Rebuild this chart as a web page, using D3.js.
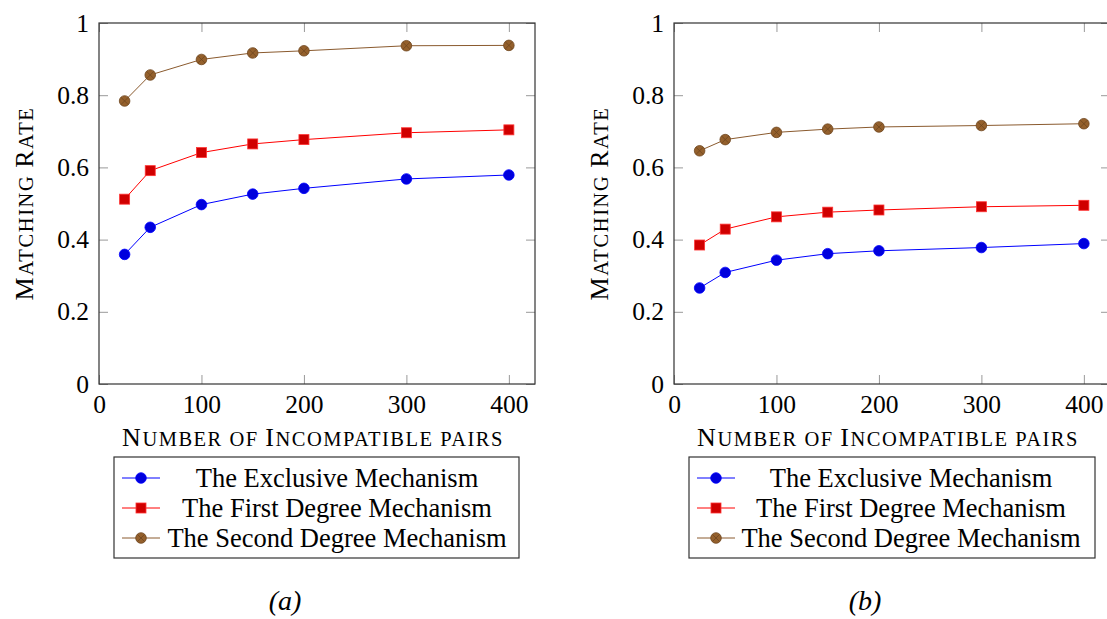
<!doctype html>
<html>
<head>
<meta charset="utf-8">
<script src="https://cdn.jsdelivr.net/npm/d3@7/dist/d3.min.js"></script>
<style>
  body { margin: 0; background: #fff; }
  svg text { font-family: "Liberation Serif", "Times New Roman", Times, serif; fill: #000; }
</style>
</head>
<body>
<svg id="chart" width="1107" height="619"></svg>
<script>
// data
const pairs = [25, 50, 100, 150, 200, 300, 400];
const exclusiveA = [0.359, 0.434, 0.497, 0.526, 0.542, 0.568, 0.579];
const firstA = [0.512, 0.591, 0.641, 0.665, 0.677, 0.696, 0.704];
const secondA = [0.784, 0.856, 0.899, 0.917, 0.923, 0.937, 0.938];
const exclusiveB = [0.266, 0.309, 0.343, 0.361, 0.369, 0.378, 0.389];
const firstB = [0.385, 0.429, 0.463, 0.476, 0.482, 0.491, 0.495];
const secondB = [0.646, 0.677, 0.697, 0.706, 0.712, 0.716, 0.721];
const seriesNames = ["The Exclusive Mechanism", "The First Degree Mechanism", "The Second Degree Mechanism"];
const xTicks = [0, 100, 200, 300, 400];
const yTicks = [0, 0.2, 0.4, 0.6, 0.8, 1];
const captions = ["(a)", "(b)"];

const styles = [
  { line: "#0000ff", fill: "#0000dd", stroke: "#0000ff", mark: "circle" },
  { line: "#ff0000", fill: "#d00000", stroke: "#ff3333", mark: "square" },
  { line: "#8a5a2e", fill: "#94602c", stroke: "#6e461f", mark: "otimes" }
];

const svg = d3.select("#chart");
const fs = 25.5;

// latex-like small caps: capitals full size, lower case as smaller capitals
function smallCaps(text, str, big, small) {
  const parts = str.match(/[A-Z]+|[^A-Z]+/g);
  parts.forEach(p => {
    const isBig = /[A-Z]/.test(p[0]);
    text.append("tspan").attr("font-size", isBig ? big : small).text(p.toUpperCase());
  });
}

function drawMark(g, st, cx, cy) {
  if (st.mark === "square") {
    g.append("rect").attr("x", cx - 5).attr("y", cy - 5).attr("width", 10).attr("height", 10)
      .attr("fill", st.fill).attr("stroke", st.stroke).attr("stroke-width", 0.8);
  } else {
    g.append("circle").attr("cx", cx).attr("cy", cy).attr("r", 5.3)
      .attr("fill", st.fill).attr("stroke", st.stroke).attr("stroke-width", 0.8);
    if (st.mark === "otimes") {
      const d = 3.6;
      g.append("path")
        .attr("d", `M${cx - d},${cy - d}L${cx + d},${cy + d}M${cx - d},${cy + d}L${cx + d},${cy - d}`)
        .attr("stroke", st.stroke).attr("stroke-width", 0.8);
    }
  }
}

function drawPanel(left, series, legendBox, caption, capX) {
  const top = 23, bottom = 384, w = 436;
  const x = d3.scaleLinear().domain([0, 425.5]).range([left, left + w]);
  const y = d3.scaleLinear().domain([0, 1]).range([bottom, top]);
  const g = svg.append("g");

  // ticks (inside, mirrored)
  const fmt = d => String(+d.toFixed(1));
  g.append("g").attr("transform", `translate(0,${bottom})`)
    .call(d3.axisBottom(x).tickValues(xTicks).tickSize(-9).tickPadding(11).tickFormat(fmt));
  g.append("g").attr("transform", `translate(0,${top})`)
    .call(d3.axisTop(x).tickValues(xTicks).tickSize(-9).tickFormat(""));
  g.append("g").attr("transform", `translate(${left},0)`)
    .call(d3.axisLeft(y).tickValues(yTicks).tickSize(-9).tickPadding(10).tickFormat(fmt));
  g.append("g").attr("transform", `translate(${left + w},0)`)
    .call(d3.axisRight(y).tickValues(yTicks).tickSize(-9).tickFormat(""));
  g.selectAll(".domain").remove();
  g.selectAll(".tick line").attr("stroke", "#999").attr("stroke-width", 1);
  g.selectAll(".tick text").attr("font-size", fs).attr("fill", "#000");

  g.append("rect").attr("x", left).attr("y", top).attr("width", w).attr("height", bottom - top)
    .attr("fill", "none").attr("stroke", "#333").attr("stroke-width", 1.2);

  // axis titles
  const xt = g.append("text").attr("x", left + w / 2 - 4).attr("y", 446).attr("text-anchor", "middle")
    .attr("letter-spacing", 1.5);
  smallCaps(xt, "Number of Incompatible pairs", 26, 20.5);
  const yt = g.append("text").attr("transform", `translate(${left - 66},${(top + bottom) / 2}) rotate(-90)`)
    .attr("text-anchor", "middle").attr("letter-spacing", 1.6);
  smallCaps(yt, "Matching Rate", 26, 20.5);

  // series
  const line = d3.line().x((d, i) => x(pairs[i])).y(d => y(d));
  series.forEach((vals, k) => {
    const st = styles[k];
    g.append("path").attr("d", line(vals)).attr("fill", "none")
      .attr("stroke", st.line).attr("stroke-width", 1);
    const mg = g.append("g");
    vals.forEach((v, i) => drawMark(mg, st, x(pairs[i]), y(v)));
  });

  // legend
  const lb = legendBox;
  g.append("rect").attr("x", lb.x).attr("y", 457).attr("width", lb.w).attr("height", 101)
    .attr("fill", "#fff").attr("stroke", "#333").attr("stroke-width", 1.2);
  seriesNames.forEach((name, k) => {
    const cy = 478 + k * 30;
    const st = styles[k];
    g.append("line").attr("x1", lb.x + 8).attr("x2", lb.x + 46).attr("y1", cy).attr("y2", cy)
      .attr("stroke", st.line).attr("stroke-width", 1);
    drawMark(g, st, lb.x + 27, cy);
    g.append("text").attr("x", lb.tx).attr("y", cy + 9).attr("text-anchor", "middle")
      .attr("font-size", 26.5).text(name);
  });

  g.append("text").attr("x", capX).attr("y", 610).attr("text-anchor", "middle")
    .attr("font-size", 28).attr("font-style", "italic").text(caption);
}

drawPanel(99, [exclusiveA, firstA, secondA], { x: 114, w: 405, tx: 337 }, captions[0], 285);
drawPanel(674, [exclusiveB, firstB, secondB], { x: 689, w: 406, tx: 911 }, captions[1], 865);
</script>
</body>
</html>
